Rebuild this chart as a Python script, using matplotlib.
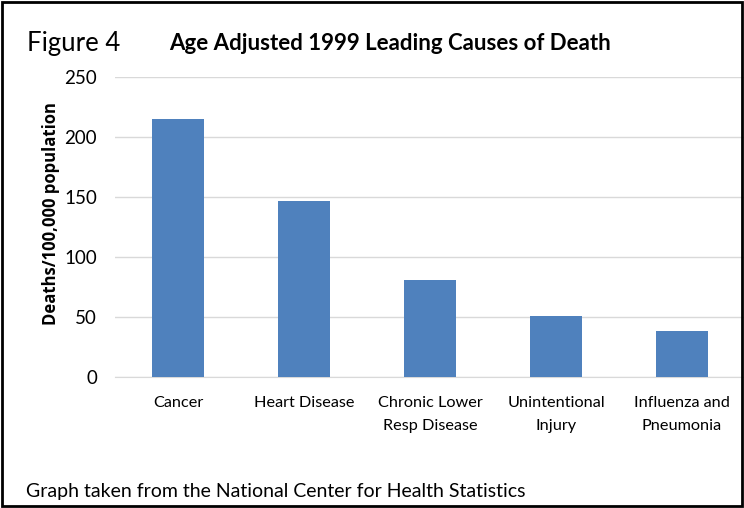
import matplotlib.pyplot as plt
from matplotlib.patches import Rectangle

# data
categories = ["Cancer", "Heart Disease", "Chronic Lower\nResp Disease",
              "Unintentional\nInjury", "Influenza and\nPneumonia"]
deaths = [215, 147, 81, 51, 38]
y_ticks = [0, 50, 100, 150, 200, 250]

plt.rcParams['font.family'] = ['Lato', 'DejaVu Sans']

fig = plt.figure(figsize=(7.44, 5.08), dpi=100)
ax = fig.add_axes([115 / 744, 1 - 377 / 508, 630 / 744, 300 / 508])

x = range(len(categories))
ax.bar(x, deaths, width=0.405, color="#4f81bd", zorder=3)
ax.set_xlim(-0.5, len(categories) - 0.5)
ax.set_ylim(0, 250)
ax.set_yticks(y_ticks)
ax.set_xticks(list(x))
ax.set_xticklabels(categories, fontsize=11.7, linespacing=1.8)
ax.tick_params(axis='y', labelsize=13.5, length=0, pad=13)
ax.tick_params(axis='x', length=0, pad=14)
ax.grid(axis='y', color="#d9d9d9", linewidth=1, zorder=0)
for side in ["top", "right", "left"]:
    ax.spines[side].set_visible(False)
ax.spines["bottom"].set_color("#d9d9d9")

# axis title, placed by hand like in the original
fig.text(51 / 744, 1 - 214 / 508, "Deaths/100,000 population", rotation=90,
         fontsize=12, fontweight="bold", family=["Open Sans", "DejaVu Sans"],
         va="center", ha="center")

fig.text(27 / 744, 1 - 44 / 508, "Figure 4", fontsize=18.5, va="center", ha="left")
fig.text(390 / 744, 1 - 43 / 508, "Age Adjusted 1999 Leading Causes of Death",
         fontsize=16, fontweight="bold", va="center", ha="center")
fig.text(26 / 744, 1 - 492 / 508, "Graph taken from the National Center for Health Statistics",
         fontsize=14, va="center", ha="left")

# black frame round the whole picture
fig.patches.append(Rectangle((0.003, 0.004), 0.994, 0.992, transform=fig.transFigure,
                             fill=False, edgecolor="black", linewidth=2))

fig.savefig("out.png", dpi=100)
